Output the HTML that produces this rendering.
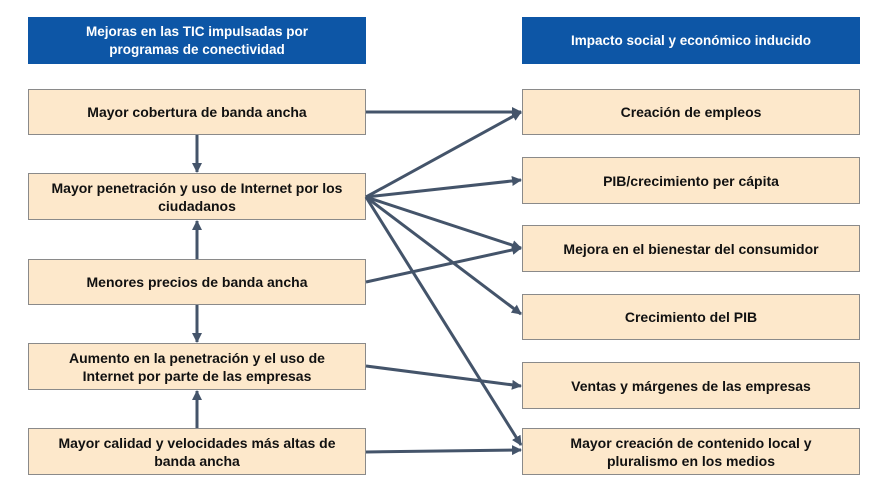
<!DOCTYPE html>
<html><head><meta charset="utf-8"><style>
body{margin:0;background:#fff;width:890px;height:496px;overflow:hidden;position:relative;font-family:"Liberation Sans",sans-serif;}
.b{position:absolute;box-sizing:border-box;display:flex;align-items:center;justify-content:center;text-align:center;font-weight:bold;font-size:14px;line-height:18px;}
.h{background:#0d56a6;color:#fff;font-size:13.5px;}
.n{background:#fde8cb;border:1.5px solid #8a8a8a;color:#111;}
svg{position:absolute;left:0;top:0;}
</style></head><body>
<div class="b h" style="left:28px;top:17px;width:338px;height:47px;">Mejoras en las TIC impulsadas por<br>programas de conectividad</div>
<div class="b h" style="left:522px;top:17px;width:338px;height:47px;">Impacto social y económico inducido</div>
<div class="b n" style="left:28px;top:89px;width:338px;height:46px;">Mayor cobertura de banda ancha</div>
<div class="b n" style="left:28px;top:173px;width:338px;height:47px;">Mayor penetración y uso de Internet por los<br>ciudadanos</div>
<div class="b n" style="left:28px;top:259px;width:338px;height:46px;">Menores precios de banda ancha</div>
<div class="b n" style="left:28px;top:343px;width:338px;height:47px;">Aumento en la penetración y el uso de<br>Internet por parte de las empresas</div>
<div class="b n" style="left:28px;top:428px;width:338px;height:47px;">Mayor calidad y velocidades más altas de<br>banda ancha</div>
<div class="b n" style="left:522px;top:89px;width:338px;height:46px;">Creación de empleos</div>
<div class="b n" style="left:522px;top:157px;width:338px;height:47px;">PIB/crecimiento per cápita</div>
<div class="b n" style="left:522px;top:225px;width:338px;height:47px;">Mejora en el bienestar del consumidor</div>
<div class="b n" style="left:522px;top:294px;width:338px;height:46px;">Crecimiento del PIB</div>
<div class="b n" style="left:522px;top:362px;width:338px;height:47px;">Ventas y márgenes de las empresas</div>
<div class="b n" style="left:522px;top:428px;width:338px;height:47px;">Mayor creación de contenido local y<br>pluralismo en los medios</div>
<svg width="890" height="496">
<defs><marker id="a" markerWidth="10" markerHeight="10" refX="9" refY="5" orient="auto" markerUnits="userSpaceOnUse"><path d="M0,0L10,5L0,10z" fill="#44546a"/></marker></defs>
<g stroke="#44546a" stroke-width="3" fill="none" marker-end="url(#a)">
<line x1="366" y1="112" x2="521" y2="112"/>
<line x1="366" y1="197" x2="521" y2="112"/>
<line x1="366" y1="197" x2="521" y2="180"/>
<line x1="366" y1="197" x2="521" y2="248"/>
<line x1="366" y1="197" x2="521" y2="314"/>
<line x1="366" y1="197" x2="521" y2="445"/>
<line x1="366" y1="282" x2="521" y2="248"/>
<line x1="366" y1="366" x2="521" y2="386"/>
<line x1="366" y1="452" x2="521" y2="450"/>
<line x1="197" y1="135" x2="197" y2="172"/>
<line x1="197" y1="259" x2="197" y2="221"/>
<line x1="197" y1="305" x2="197" y2="342"/>
<line x1="197" y1="428" x2="197" y2="391"/>
</g></svg>
</body></html>
